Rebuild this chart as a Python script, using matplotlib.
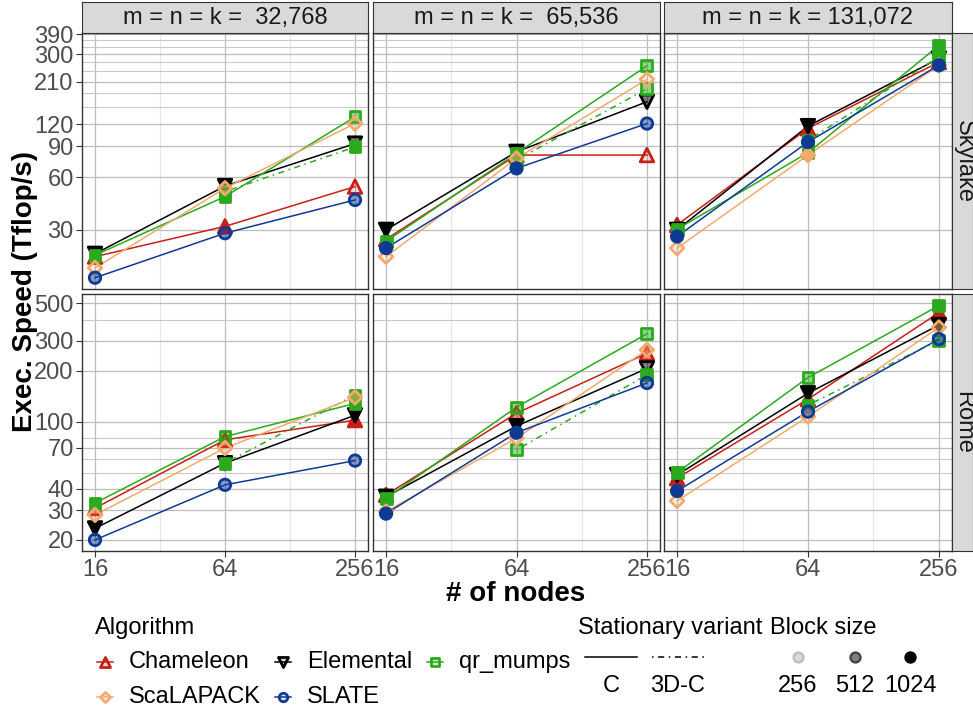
import numpy as np
import matplotlib
matplotlib.use("Agg")
import matplotlib.pyplot as plt
from matplotlib.lines import Line2D

plt.rcParams['font.family'] = ['Liberation Sans', 'DejaVu Sans']

nodes = [16, 64, 256]
sizes = ['32,768', '65,536', '131,072']
machines = ['Skylake', 'Rome']
algorithms = ['Chameleon', 'Elemental', 'qr_mumps', 'ScaLAPACK', 'SLATE']
alg_colors = ['#C81F16', '#000000', '#2AAA1C', '#F3AA6C', '#0E3A94']
alg_markers = ['^', 'v', 's', 'D', 'o']
variants = ['C', '3D-C']
block_sizes = [256, 512, 1024]

# Tflop/s, one row per matrix size (32768, 65536, 131072), columns = nodes
chameleon_skylake = [[21.1, 31.4, 52.9], [26.5, 80, 80], [32, 113.5, 271]]
chameleon_rome = [[30.8, 78, 102], [36.9, 112, 253], [46.3, 135.5, 440]]
elemental_skylake = [[21.9, 53.3, 93], [30, 83.5, 161], [30, 117, 284]]
elemental_rome = [[23.4, 56.8, 109], [36, 94, 206], [48.4, 147, 372]]
qrm_c_skylake = [[21.5, 46.4, 132], [25.8, 81.8, 258], [30.3, 82.5, 337]]
qrm_c_rome = [[33, 81.5, 128], [35.2, 121.6, 330], [50, 182, 484]]
qrm_3d_skylake = [[np.nan, 49.5, 89], [np.nan, 75, 191], [np.nan, 97, 290]]
qrm_3d_rome = [[np.nan, 56.8, 143.6], [np.nan, 68, 189], [np.nan, 125, 303]]
scalapack_skylake = [[18.2, 51.8, 121], [21.1, 76.6, 216], [23.6, 80, 260]]
scalapack_rome = [[28.1, 69.7, 139], [29.4, 79.8, 265], [34, 107, 360]]
slate_skylake = [[16.0, 28.7, 44.4], [23.6, 67.2, 121], [27.5, 95, 260]]
slate_rome = [[20, 42.3, 58.8], [28.6, 86, 169], [38.9, 114.5, 307]]

# best block size for each point
chameleon_skylake_bs = [[1024, 1024, 256], [1024, 1024, 256], [1024, 1024, 1024]]
chameleon_rome_bs = [[512, 512, 1024], [1024, 512, 512], [1024, 1024, 1024]]
elemental_skylake_bs = [[1024, 1024, 512], [1024, 1024, 512], [1024, 1024, 1024]]
elemental_rome_bs = [[1024, 1024, 1024], [1024, 1024, 512], [1024, 1024, 1024]]
qrm_c_skylake_bs = [[1024, 1024, 512], [1024, 1024, 512], [1024, 1024, 1024]]
qrm_c_rome_bs = [[1024, 512, 1024], [1024, 512, 512], [1024, 512, 1024]]
qrm_3d_skylake_bs = [[1024, 512, 1024], [1024, 1024, 512], [1024, 1024, 1024]]
qrm_3d_rome_bs = [[1024, 1024, 1024], [1024, 512, 1024], [1024, 1024, 512]]
scalapack_skylake_bs = [[256, 512, 256], [256, 512, 256], [256, 1024, 512]]
scalapack_rome_bs = [[256, 256, 512], [256, 256, 512], [256, 256, 512]]
slate_skylake_bs = [[512, 512, 512], [1024, 1024, 512], [1024, 1024, 1024]]
slate_rome_bs = [[512, 512, 512], [1024, 1024, 512], [1024, 512, 512]]

ytop_major = [30, 60, 90, 120, 210, 300, 390]
ytop_minor = [150, 180, 240, 270, 330, 360]
ybot_major = [20, 30, 40, 70, 100, 200, 300, 500]
ybot_minor = [50, 60, 80, 400]

series = [
    ('Chameleon', 'C', 'Skylake', chameleon_skylake, chameleon_skylake_bs),
    ('Chameleon', 'C', 'Rome', chameleon_rome, chameleon_rome_bs),
    ('Elemental', 'C', 'Skylake', elemental_skylake, elemental_skylake_bs),
    ('Elemental', 'C', 'Rome', elemental_rome, elemental_rome_bs),
    ('qr_mumps', 'C', 'Skylake', qrm_c_skylake, qrm_c_skylake_bs),
    ('qr_mumps', 'C', 'Rome', qrm_c_rome, qrm_c_rome_bs),
    ('qr_mumps', '3D-C', 'Skylake', qrm_3d_skylake, qrm_3d_skylake_bs),
    ('qr_mumps', '3D-C', 'Rome', qrm_3d_rome, qrm_3d_rome_bs),
    ('ScaLAPACK', 'C', 'Skylake', scalapack_skylake, scalapack_skylake_bs),
    ('ScaLAPACK', 'C', 'Rome', scalapack_rome, scalapack_rome_bs),
    ('SLATE', 'C', 'Skylake', slate_skylake, slate_skylake_bs),
    ('SLATE', 'C', 'Rome', slate_rome, slate_rome_bs),
]

alpha_of = {256: 0.15, 512: 0.5, 1024: 1.0}
ls_of = {'C': '-', '3D-C': (0, (1, 3, 4, 3))}
msize = {'^': 95, 'v': 95, 's': 62, 'D': 48, 'o': 68}

W, H = 973, 711
fig = plt.figure(figsize=(W / 100, H / 100), dpi=100)


def rect(x0, y0, x1, y1):
    return [x0 / W, 1 - y1 / H, (x1 - x0) / W, (y1 - y0) / H]


cols_x = [(82, 368), (373, 660), (664, 952)]
rows_y = [(33, 289), (294, 551)]
ylims = [(13.8, 397), (17.2, 567)]
yticks = [(ytop_major, ytop_minor), (ybot_major, ybot_minor)]
tick_fs = 17
grey = '#4D4D4D'

for r, machine in enumerate(machines):
    for c, size in enumerate(sizes):
        ax = fig.add_axes(rect(cols_x[c][0], rows_y[r][0], cols_x[c][1], rows_y[r][1]))
        ax.set_xscale('log', base=2)
        ax.set_yscale('log')
        ax.set_xlim(2 ** 3.8, 2 ** 8.2)
        ax.set_ylim(*ylims[r])
        ax.set_xticks(nodes)
        ax.set_xticks([32, 128], minor=True)
        ax.set_yticks(yticks[r][0])
        ax.set_yticks(yticks[r][1], minor=True)
        ax.xaxis.set_minor_formatter(matplotlib.ticker.NullFormatter())
        ax.yaxis.set_minor_formatter(matplotlib.ticker.NullFormatter())
        if r == 1:
            ax.set_xticklabels([str(n) for n in nodes], fontsize=tick_fs, color=grey)
        else:
            ax.set_xticklabels([])
        if c == 0:
            ax.set_yticklabels([str(v) for v in yticks[r][0]], fontsize=tick_fs, color=grey)
        else:
            ax.set_yticklabels([])
        ax.tick_params(which='major', length=4, width=0.8, color='#333333', pad=2)
        ax.tick_params(which='minor', length=0)
        if r == 0:
            ax.tick_params(axis='x', length=0)
        if c > 0:
            ax.tick_params(axis='y', length=0)
        ax.grid(which='major', color='#BDBDBD', lw=0.9)
        ax.grid(which='minor', axis='y', color='#C9C9C9', lw=0.8)
        ax.grid(which='minor', axis='x', color='#E6E6E6', lw=0.8)
        ax.set_axisbelow(True)
        for s in ax.spines.values():
            s.set_color('#333333')
            s.set_linewidth(1.0)

        # lines first
        for alg, var, mach, perf, bs in series:
            if mach != machine:
                continue
            i = algorithms.index(alg)
            y = np.array(perf[c], dtype=float)
            ok = ~np.isnan(y)
            ax.plot(np.array(nodes)[ok], y[ok], color=alg_colors[i], ls=ls_of[var],
                    lw=1.1, zorder=2)
        # then points
        for alg, var, mach, perf, bs in series:
            if mach != machine:
                continue
            i = algorithms.index(alg)
            y = np.array(perf[c], dtype=float)
            ok = ~np.isnan(y)
            rgb = matplotlib.colors.to_rgb(alg_colors[i])
            faces = [(*rgb, alpha_of[b]) for b, k in zip(bs[c], ok) if k]
            ax.scatter(np.array(nodes)[ok], y[ok], marker=alg_markers[i],
                       s=msize[alg_markers[i]], facecolors=faces,
                       edgecolors=alg_colors[i], linewidths=2.0, zorder=3)

        # strips
        if r == 0:
            sa = fig.add_axes(rect(cols_x[c][0], 2, cols_x[c][1], 33))
            sa.set_facecolor('#D9D9D9')
            sa.set_xticks([])
            sa.set_yticks([])
            for s in sa.spines.values():
                s.set_color('#333333')
            sa.text(0.5, 0.48, f'm = n = k = {size:>7}', ha='center', va='center',
                    fontsize=17, color='#1A1A1A', transform=sa.transAxes)
        if c == 2:
            sa = fig.add_axes(rect(952, rows_y[r][0], 973, rows_y[r][1]))
            sa.set_facecolor('#D9D9D9')
            sa.set_xticks([])
            sa.set_yticks([])
            for s in sa.spines.values():
                s.set_color('#333333')
            sa.text(0.55, 0.5, machine, ha='center', va='center', rotation=-90,
                    fontsize=17, color='#1A1A1A', transform=sa.transAxes)

fig.text(25 / W, 1 - 291 / H, 'Exec. Speed (Tflop/s)', rotation=90, ha='center',
         va='center', fontsize=20, fontweight='bold')
fig.text(516 / W, 1 - 594 / H, '# of nodes', ha='center', va='center',
         fontsize=20, fontweight='bold')

# legends, drawn in pixel coordinates
lg = fig.add_axes([0, 0, 1, 1])
lg.set_xlim(0, W)
lg.set_ylim(H, 0)
lg.axis('off')
lfs = 17

lg.text(95, 628, 'Algorithm', fontsize=lfs, va='center')
key_pos = [(105, 662), (283, 662), (435, 662), (105, 697), (283, 697)]
for i, alg in enumerate(algorithms):
    kx, ky = key_pos[i]
    rgb = matplotlib.colors.to_rgb(alg_colors[i])
    lg.add_line(Line2D([kx - 8, kx + 8], [ky, ky], color=alg_colors[i], lw=1.1))
    lg.scatter([kx], [ky], marker=alg_markers[i], s=msize[alg_markers[i]] * 0.55,
               facecolors=[(*rgb, 0.15)], edgecolors=alg_colors[i], linewidths=2.0)
    lg.text(kx + 24, ky, alg, fontsize=lfs, va='center')

lg.text(578, 628, 'Stationary variant', fontsize=lfs, va='center')
for j, var in enumerate(variants):
    x0 = [585, 652][j]
    lg.add_line(Line2D([x0, x0 + 52], [657, 657], color='black', lw=1.1, ls=ls_of[var]))
    lg.text(x0 + 26, 686, var, fontsize=lfs, ha='center', va='center')

lg.text(770, 628, 'Block size', fontsize=lfs, va='center')
for j, b in enumerate(block_sizes):
    bx = [798, 855, 910][j]
    a = alpha_of[b]
    lg.scatter([bx], [657], marker='o', s=55, facecolors=[(0, 0, 0, a)],
               edgecolors=[(0, 0, 0, min(1, a * 1.3))], linewidths=1.5)
    lg.text(bx, 686, str(b), fontsize=lfs, ha='center', va='center')

fig.savefig('out.png', dpi=100)
